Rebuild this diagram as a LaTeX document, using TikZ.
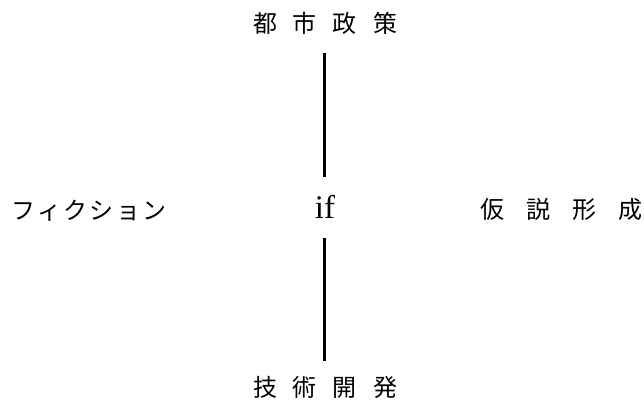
\documentclass[tikz,border=0pt]{standalone}
\usepackage{fontspec}
\setmainfont{Liberation Serif}
\newfontfamily\cjk{Noto Sans CJK JP}
\newfontfamily\kanacjk[LetterSpace=10]{Noto Sans CJK JP}
\begin{document}
\begin{tikzpicture}[x=1pt,y=-1pt,
  kanji/.style={inner sep=0pt,font={\fontsize{24pt}{28pt}\cjk\spaceskip=16pt}},
  kanjiwide/.style={inner sep=0pt,font={\fontsize{24pt}{28pt}\cjk\spaceskip=22pt}},
  kana/.style={inner sep=0pt,font={\fontsize{24pt}{28pt}\kanacjk}},
  word/.style={inner sep=0pt,font={\fontsize{33pt}{36pt}\selectfont}},
  link/.style={line width=2.6pt}]
\useasboundingbox (0,0) rectangle (644,402);
\node[kanji] (top) at (325,23.5) {都 市 政 策};
\node[kanji] (bot) at (325,387) {技 術 開 発};
\node[kana] (left) at (89,211) {フィクション};
\node[kanjiwide] (right) at (561.5,209.5) {仮 説 形 成};
\node[word] (if) at (325,207) {if};
\coordinate (t1) at (324.5,52.5);
\coordinate (t2) at (324.5,176.5);
\coordinate (b1) at (324.5,237.5);
\coordinate (b2) at (324.5,360.5);
\draw[link] (t1) -- (t2);
\draw[link] (b1) -- (b2);
\end{tikzpicture}
\end{document}
